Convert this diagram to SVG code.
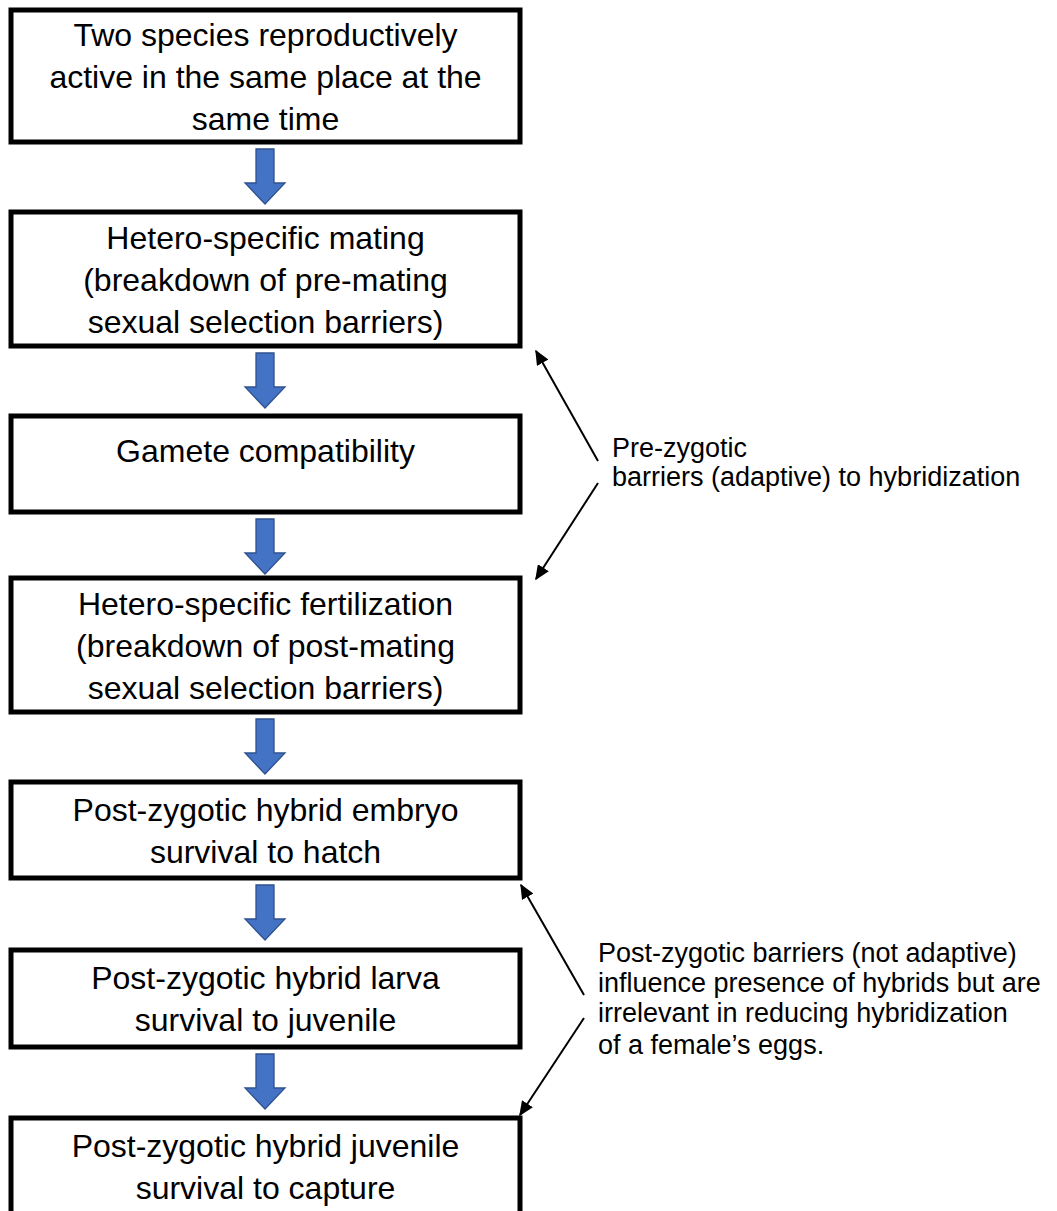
<svg xmlns="http://www.w3.org/2000/svg" width="1057" height="1211" viewBox="0 0 1057 1211">
<defs>
<style>
.box{fill:#fff;stroke:#000;stroke-width:5}
.bt{font-family:"Liberation Sans",Arial,sans-serif;font-size:32px;fill:#000;text-anchor:middle}
.at{font-family:"Liberation Sans",Arial,sans-serif;font-size:27px;fill:#000}
.blk{fill:#4472C4;stroke:#2F528F;stroke-width:1.3}
.ln{stroke:#000;stroke-width:2;fill:none;marker-end:url(#ah)}
</style>
<marker id="ah" viewBox="0 0 10 10" refX="9" refY="5" markerWidth="15" markerHeight="13" markerUnits="userSpaceOnUse" orient="auto" preserveAspectRatio="none">
<path d="M0,0 L10,5 L0,10 Z" fill="#000"/>
</marker>
</defs>
<rect width="1057" height="1211" fill="#fff"/>
<g id="n1"><rect class="box" x="11" y="10" width="509" height="132"/>
<text class="bt" x="265.5" y="45.5">Two species reproductively</text>
<text class="bt" x="265.5" y="87.5">active in the same place at the</text>
<text class="bt" x="265.5" y="129.5">same time</text></g>
<g id="n2"><rect class="box" x="11" y="212" width="509" height="134"/>
<text class="bt" x="265.5" y="248.5">Hetero-specific mating</text>
<text class="bt" x="265.5" y="290.5">(breakdown of pre-mating</text>
<text class="bt" x="265.5" y="332.5">sexual selection barriers)</text></g>
<g id="n3"><rect class="box" x="11" y="416" width="509" height="96"/>
<text class="bt" x="265.5" y="462">Gamete compatibility</text></g>
<g id="n4"><rect class="box" x="11" y="578" width="509" height="134"/>
<text class="bt" x="265.5" y="614.5">Hetero-specific fertilization</text>
<text class="bt" x="265.5" y="656.5">(breakdown of post-mating</text>
<text class="bt" x="265.5" y="698.5">sexual selection barriers)</text></g>
<g id="n5"><rect class="box" x="11" y="782" width="509" height="96"/>
<text class="bt" x="265.5" y="820.5">Post-zygotic hybrid embryo</text>
<text class="bt" x="265.5" y="862.5">survival to hatch</text></g>
<g id="n6"><rect class="box" x="11" y="950" width="509" height="97"/>
<text class="bt" x="265.5" y="989">Post-zygotic hybrid larva</text>
<text class="bt" x="265.5" y="1031">survival to juvenile</text></g>
<g id="n7"><rect class="box" x="11" y="1118" width="509" height="100"/>
<text class="bt" x="265.5" y="1156.5">Post-zygotic hybrid juvenile</text>
<text class="bt" x="265.5" y="1198.5">survival to capture</text></g>
<g id="connectors">
<path class="blk" d="M256,149 L274,149 L274,183 L285,183 L265,204 L245,183 L256,183 Z"/>
<path class="blk" d="M256,353 L274,353 L274,387 L285,387 L265,408 L245,387 L256,387 Z"/>
<path class="blk" d="M256,519 L274,519 L274,553 L285,553 L265,574 L245,553 L256,553 Z"/>
<path class="blk" d="M256,719 L274,719 L274,753 L285,753 L265,774 L245,753 L256,753 Z"/>
<path class="blk" d="M256,885 L274,885 L274,919 L285,919 L265,940 L245,919 L256,919 Z"/>
<path class="blk" d="M256,1054 L274,1054 L274,1088 L285,1088 L265,1109 L245,1088 L256,1088 Z"/>
<line class="ln" x1="598" y1="461" x2="536" y2="351"/>
<line class="ln" x1="598" y1="483" x2="536" y2="579"/>
<line class="ln" x1="584" y1="995" x2="521" y2="885"/>
<line class="ln" x1="584" y1="1018" x2="520" y2="1115"/>
</g>
<g id="label-pre">
<text class="at" x="612" y="457">Pre-zygotic</text>
<text class="at" x="612" y="486">barriers (adaptive) to hybridization</text>
</g>
<g id="label-post">
<text class="at" x="598" y="962">Post-zygotic barriers (not adaptive)</text>
<text class="at" x="598" y="992">influence presence of hybrids but are</text>
<text class="at" x="598" y="1022">irrelevant in reducing hybridization</text>
<text class="at" x="598" y="1054">of a female’s eggs.</text>
</g>
</svg>
